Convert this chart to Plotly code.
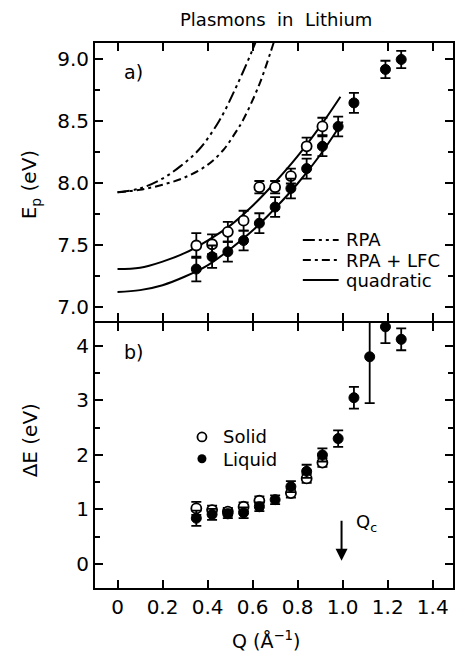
import plotly.graph_objects as go

# ---------------- data ----------------
# Panel a) plasmon energy E_p (eV)
q_a_solid = [0.35, 0.42, 0.49, 0.56, 0.63, 0.70, 0.77, 0.84, 0.91]
ep_solid = [7.50, 7.51, 7.61, 7.70, 7.97, 7.97, 8.06, 8.30, 8.46]
ep_solid_err = [0.10, 0.08, 0.08, 0.08, 0.05, 0.05, 0.06, 0.07, 0.07]

q_a_liquid = [0.35, 0.42, 0.49, 0.56, 0.63, 0.70, 0.77, 0.84, 0.91, 0.98, 1.05, 1.19, 1.26]
ep_liquid = [7.31, 7.41, 7.45, 7.54, 7.68, 7.81, 7.96, 8.12, 8.30, 8.46, 8.65, 8.92, 9.00]
ep_liquid_err = [0.10, 0.09, 0.08, 0.08, 0.08, 0.08, 0.08, 0.08, 0.08, 0.08, 0.08, 0.07, 0.07]

# theory curves
q_rpa = [0.0, 0.10, 0.20, 0.28, 0.36, 0.45, 0.53, 0.60, 0.63]
ep_rpa = [7.93, 7.96, 8.04, 8.14, 8.27, 8.50, 8.79, 9.08, 9.22]
q_lfc = [0.0, 0.10, 0.20, 0.30, 0.40, 0.47, 0.52, 0.56, 0.63, 0.68, 0.71]
ep_lfc = [7.93, 7.95, 7.99, 8.05, 8.15, 8.27, 8.40, 8.52, 8.80, 9.06, 9.23]
q_quad = [0.0, 0.10, 0.20, 0.30, 0.40, 0.50, 0.60, 0.70, 0.80, 0.90, 0.99]
ep_quad_solid = [7.31, 7.32, 7.37, 7.44, 7.54, 7.66, 7.82, 8.01, 8.22, 8.46, 8.70]
q_quad_l = [0.0, 0.10, 0.20, 0.30, 0.40, 0.50, 0.60, 0.70, 0.80, 0.90, 1.00]
ep_quad_liquid = [7.125, 7.14, 7.18, 7.25, 7.34, 7.47, 7.62, 7.80, 8.00, 8.23, 8.50]

# Panel b) plasmon width dE (eV)
q_b_solid = [0.35, 0.42, 0.49, 0.56, 0.63, 0.77, 0.84, 0.91]
de_solid = [1.02, 0.99, 0.96, 1.05, 1.16, 1.30, 1.57, 1.86]
de_solid_err = [0.12, 0.08, 0.07, 0.08, 0.08, 0.08, 0.08, 0.08]

q_b_liquid = [0.35, 0.42, 0.49, 0.56, 0.63, 0.70, 0.77, 0.84, 0.91, 0.98, 1.05, 1.12, 1.19, 1.26]
de_liquid = [0.84, 0.91, 0.92, 0.94, 1.05, 1.18, 1.42, 1.70, 2.00, 2.30, 3.05, 3.80, 4.35, 4.12]
de_liquid_err = [0.14, 0.10, 0.08, 0.10, 0.08, 0.08, 0.10, 0.12, 0.12, 0.15, 0.20, 0.85, 0.30, 0.20]

x_ticks = [0, 0.2, 0.4, 0.6, 0.8, 1.0, 1.2, 1.4]
x_ticktext = ["0", "0.2", "0.4", "0.6", "0.8", "1.0", "1.2", "1.4"]
ya_ticks = [7.0, 7.5, 8.0, 8.5, 9.0]
ya_ticktext = ["7.0", "7.5", "8.0", "8.5", "9.0"]
yb_ticks = [0, 1, 2, 3, 4]
yb_ticktext = ["0", "1", "2", "3", "4"]

# ---------------- figure ----------------
FONT = "DejaVu Sans"
BLACK = "black"
fig = go.Figure()

line_w = 2
fig.add_trace(go.Scatter(x=q_rpa, y=ep_rpa, mode="lines", xaxis="x", yaxis="y",
                         line=dict(color=BLACK, width=line_w, dash="12px,4px,3px,4px,3px,4px", shape="spline")))
fig.add_trace(go.Scatter(x=q_lfc, y=ep_lfc, mode="lines", xaxis="x", yaxis="y",
                         line=dict(color=BLACK, width=line_w, dash="8px,4px,3px,4px", shape="spline")))
fig.add_trace(go.Scatter(x=q_quad, y=ep_quad_solid, mode="lines", xaxis="x", yaxis="y",
                         line=dict(color=BLACK, width=line_w, shape="spline")))
fig.add_trace(go.Scatter(x=q_quad_l, y=ep_quad_liquid, mode="lines", xaxis="x", yaxis="y",
                         line=dict(color=BLACK, width=line_w, shape="spline")))

def err(vals):
    return dict(type="data", array=vals, visible=True, color=BLACK, thickness=1.8, width=5)

open_marker = dict(symbol="circle", size=10, color="white", line=dict(color=BLACK, width=1.8))
fill_marker = dict(symbol="circle", size=10, color=BLACK, line=dict(color=BLACK, width=1))

fig.add_trace(go.Scatter(x=q_a_solid, y=ep_solid, mode="markers", xaxis="x", yaxis="y",
                         marker=open_marker, error_y=err(ep_solid_err)))
fig.add_trace(go.Scatter(x=q_a_liquid, y=ep_liquid, mode="markers", xaxis="x", yaxis="y",
                         marker=fill_marker, error_y=err(ep_liquid_err)))

fig.add_trace(go.Scatter(x=q_b_solid, y=de_solid, mode="markers", xaxis="x2", yaxis="y2",
                         marker=open_marker, error_y=err(de_solid_err), cliponaxis=True))
fig.add_trace(go.Scatter(x=q_b_liquid, y=de_liquid, mode="markers", xaxis="x2", yaxis="y2",
                         marker=fill_marker, error_y=err(de_liquid_err), cliponaxis=True))

# legend markers panel b
fig.add_trace(go.Scatter(x=[0.375], y=[2.33], mode="markers", xaxis="x2", yaxis="y2",
                         marker=dict(symbol="circle", size=9, color="white", line=dict(color=BLACK, width=1.8))))
fig.add_trace(go.Scatter(x=[0.375], y=[1.93], mode="markers", xaxis="x2", yaxis="y2",
                         marker=dict(symbol="circle", size=9, color=BLACK)))

split = 265.0 / 545.0
split_top = 267.0 / 545.0
axis_common = dict(showline=True, linecolor=BLACK, linewidth=2, mirror="allticks",
                   ticks="inside", ticklen=8, tickwidth=1.5, tickcolor=BLACK,
                   showgrid=False, zeroline=False,
                   tickfont=dict(family=FONT, size=20, color=BLACK))

fig.update_layout(
    width=459, height=666,
    margin=dict(l=95, r=4, t=43, b=78),
    paper_bgcolor="white", plot_bgcolor="white",
    showlegend=False,
    font=dict(family=FONT, size=18, color=BLACK),
    xaxis=dict(domain=[0, 1], anchor="y", range=[-0.1, 1.49], tickvals=x_ticks,
               ticktext=x_ticktext, showticklabels=False, **axis_common),
    yaxis=dict(domain=[split_top, 1], anchor="x", range=[6.891, 9.133], tickvals=ya_ticks,
               ticktext=ya_ticktext,
               minor=dict(tickvals=[7.25, 7.75, 8.25, 8.75], ticks="inside", ticklen=5,
                          tickwidth=1.5, tickcolor=BLACK),
               **axis_common),
    xaxis2=dict(domain=[0, 1], anchor="y2", range=[-0.1, 1.49], tickvals=x_ticks,
                ticktext=x_ticktext, **axis_common),
    yaxis2=dict(domain=[0, split], anchor="x2", range=[-0.44, 4.42], tickvals=yb_ticks,
                ticktext=yb_ticktext,
                minor=dict(tickvals=[0.5, 1.5, 2.5, 3.5], ticks="inside", ticklen=5,
                           tickwidth=1.5, tickcolor=BLACK),
                **axis_common),
)

def px_x(px):
    return (px - 95) / 360.0

def px_y(py):
    return (588 - py) / 545.0

ann = []
ann.append(dict(text="Plasmons\u00a0\u00a0in\u00a0\u00a0Lithium", xref="paper", yref="paper",
                x=px_x(277), y=px_y(20), showarrow=False, xanchor="center", yanchor="middle",
                font=dict(family=FONT, size=18)))
ann.append(dict(text="a)", xref="paper", yref="paper", x=px_x(122), y=px_y(72),
                showarrow=False, xanchor="left", yanchor="middle", font=dict(family=FONT, size=19)))
ann.append(dict(text="b)", xref="paper", yref="paper", x=px_x(122), y=px_y(352),
                showarrow=False, xanchor="left", yanchor="middle", font=dict(family=FONT, size=19)))
ann.append(dict(text="E<sub>p</sub> (eV)", xref="paper", yref="paper", x=px_x(30), y=px_y(185),
                showarrow=False, textangle=-90, xanchor="center", yanchor="middle",
                font=dict(family=FONT, size=20)))
ann.append(dict(text="\u0394E (eV)", xref="paper", yref="paper", x=px_x(30), y=px_y(440),
                showarrow=False, textangle=-90, xanchor="center", yanchor="middle",
                font=dict(family=FONT, size=20)))
ann.append(dict(text="Q (\u00c5<sup>\u22121</sup>)", xref="paper", yref="paper", x=px_x(267), y=px_y(640),
                showarrow=False, xanchor="center", yanchor="middle", font=dict(family=FONT, size=19)))
leg_rows = [("RPA", 240, "12px,4px,3px,4px,3px,4px"), ("RPA + LFC", 260, "8px,4px,3px,4px"),
            ("quadratic", 280, "solid")]
shapes = []
for txt, py, dash in leg_rows:
    ann.append(dict(text=txt, xref="paper", yref="paper", x=px_x(345), y=px_y(py),
                    showarrow=False, xanchor="left", yanchor="middle", font=dict(family=FONT, size=18)))
    shapes.append(dict(type="line", xref="paper", yref="paper", x0=px_x(304), x1=px_x(340),
                       y0=px_y(py), y1=px_y(py), line=dict(color=BLACK, width=2, dash=dash)))
ann.append(dict(text="Solid", xref="paper", yref="paper", x=px_x(222), y=px_y(437),
                showarrow=False, xanchor="left", yanchor="middle", font=dict(family=FONT, size=18)))
ann.append(dict(text="Liquid", xref="paper", yref="paper", x=px_x(222), y=px_y(459),
                showarrow=False, xanchor="left", yanchor="middle", font=dict(family=FONT, size=18)))
ann.append(dict(text="", xref="x2", yref="y2", x=0.995, y=0.06, axref="x2", ayref="y2",
                ax=0.995, ay=0.82, showarrow=True, arrowhead=2, arrowsize=1.2, arrowwidth=2,
                arrowcolor=BLACK))
ann.append(dict(text="Q<sub>c</sub>", xref="x2", yref="y2", x=1.05, y=0.75,
                showarrow=False, xanchor="left", yanchor="middle", font=dict(family=FONT, size=18)))

fig.update_layout(annotations=ann, shapes=shapes)
fig.write_html("out.html")
